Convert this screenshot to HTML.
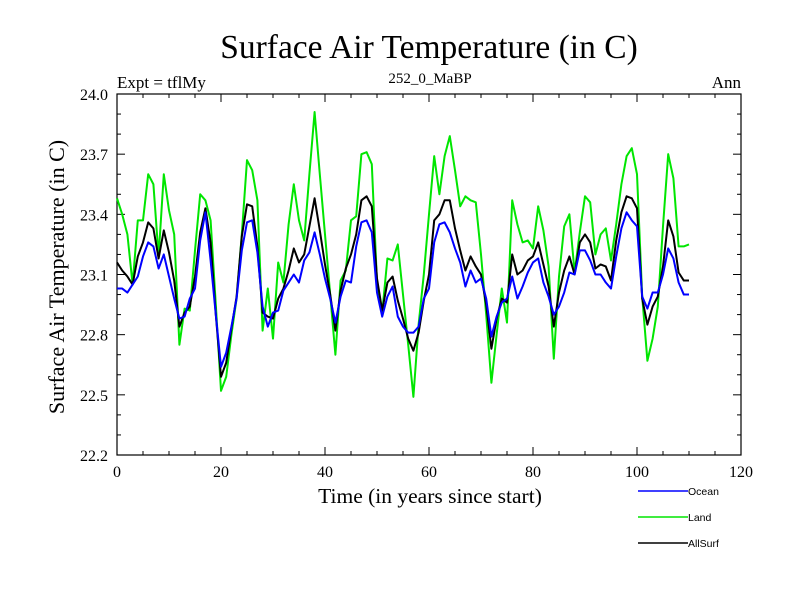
<!DOCTYPE html>
<html><head><meta charset="utf-8"><style>
html,body{margin:0;padding:0;background:#fff;}
svg{display:block;}
text{font-family:"Liberation Serif",serif;}
</style></head><body>
<svg id="chart" width="800" height="600" viewBox="0 0 800 600" xmlns="http://www.w3.org/2000/svg">
<text x="429" y="58" font-size="33.5" text-anchor="middle">Surface Air Temperature (in C)</text>
<text x="117" y="88" font-size="17">Expt = tflMy</text>
<text x="430" y="83" font-size="15" text-anchor="middle">252_0_MaBP</text>
<text x="741" y="88" font-size="17" text-anchor="end">Ann</text>
<text x="430" y="503" font-size="21.5" text-anchor="middle">Time (in years since start)</text>
<text x="0" y="0" font-size="22" text-anchor="middle" transform="translate(64,277) rotate(-90)">Surface Air Temperature (in C)</text>
<g id="axes"></g>
<g id="series"></g>
<g id="legend"></g>
</svg>
<script>
var years = [];
for (var i = 0; i <= 110; i++) years.push(i);
var land = [23.48,23.40,23.30,23.05,23.37,23.37,23.60,23.55,23.19,23.60,23.42,23.30,22.75,22.93,22.92,23.22,23.50,23.47,23.37,22.95,22.52,22.59,22.80,22.98,23.30,23.67,23.62,23.47,22.82,23.03,22.78,23.16,23.06,23.35,23.55,23.37,23.27,23.60,23.91,23.60,23.30,23.00,22.70,23.07,23.12,23.37,23.39,23.70,23.71,23.65,23.06,22.91,23.18,23.17,23.25,23.00,22.75,22.49,22.85,23.10,23.40,23.69,23.50,23.69,23.79,23.62,23.44,23.49,23.47,23.46,23.20,22.90,22.56,22.80,23.03,22.86,23.47,23.35,23.26,23.27,23.23,23.44,23.32,23.14,22.68,23.09,23.34,23.40,23.11,23.31,23.49,23.46,23.20,23.30,23.33,23.17,23.35,23.55,23.69,23.73,23.60,22.99,22.67,22.78,22.94,23.34,23.70,23.58,23.24,23.24,23.25];
var ocean = [23.03,23.03,23.01,23.05,23.09,23.19,23.26,23.24,23.13,23.20,23.09,22.98,22.88,22.89,22.98,23.03,23.27,23.41,23.17,22.90,22.64,22.71,22.84,22.98,23.22,23.36,23.37,23.21,22.94,22.84,22.91,22.92,23.02,23.06,23.10,23.06,23.17,23.21,23.31,23.20,23.08,22.98,22.86,22.99,23.07,23.06,23.24,23.36,23.37,23.31,23.01,22.89,22.99,23.04,22.89,22.84,22.81,22.81,22.84,22.98,23.03,23.26,23.35,23.36,23.31,23.23,23.16,23.04,23.12,23.06,23.08,22.98,22.79,22.89,22.96,22.98,23.09,22.98,23.04,23.11,23.16,23.18,23.06,22.99,22.90,22.94,23.01,23.11,23.10,23.22,23.22,23.17,23.10,23.10,23.06,23.03,23.19,23.33,23.41,23.37,23.34,22.99,22.93,23.01,23.01,23.10,23.23,23.18,23.06,23.00,23.00];
var allsurf = [23.16,23.12,23.09,23.05,23.19,23.26,23.36,23.33,23.18,23.32,23.21,23.07,22.84,22.91,22.94,23.09,23.31,23.43,23.26,22.90,22.59,22.66,22.83,22.99,23.29,23.45,23.44,23.24,22.91,22.89,22.88,22.98,23.03,23.12,23.23,23.16,23.20,23.34,23.48,23.32,23.15,23.00,22.82,23.02,23.13,23.20,23.30,23.47,23.49,23.44,23.08,22.92,23.06,23.09,22.97,22.88,22.78,22.72,22.81,22.97,23.10,23.37,23.40,23.47,23.47,23.33,23.22,23.12,23.19,23.14,23.10,22.95,22.73,22.88,22.98,22.96,23.20,23.10,23.12,23.17,23.19,23.26,23.15,23.04,22.84,23.01,23.12,23.19,23.10,23.26,23.30,23.26,23.13,23.15,23.14,23.07,23.27,23.41,23.49,23.48,23.43,22.98,22.85,22.94,22.99,23.14,23.37,23.29,23.11,23.07,23.07];
var xTicks = [0,20,40,60,80,100,120];
var yTicks = [22.2,22.5,22.8,23.1,23.4,23.7,24.0];
var yTickLabels = ["22.2","22.5","22.8","23.1","23.4","23.7","24.0"];

var X0=117,X1=741,Y0=455,Y1=94, XMIN=0,XMAX=120,YMIN=22.2,YMAX=24.0;
function sx(v){return X0+(v-XMIN)/(XMAX-XMIN)*(X1-X0);}
function sy(v){return Y0-(v-YMIN)/(YMAX-YMIN)*(Y0-Y1);}
var NS='http://www.w3.org/2000/svg';
function mk(tag,attrs,parent){var e=document.createElementNS(NS,tag);for(var k in attrs)e.setAttribute(k,attrs[k]);parent.appendChild(e);return e;}

var axes=document.getElementById('axes');
var frame=mk('rect',{x:X0,y:Y1,width:X1-X0,height:Y0-Y1,fill:'none',stroke:'#000','stroke-width':1.2},axes);


for (var m=XMIN;m<=XMAX;m+=5){
  var big = (m%20===0);
  var len = big?8:4;
  var t1=mk('line',{x1:sx(m),x2:sx(m),y1:Y0,y2:Y0-len,stroke:'#000','stroke-width':1},axes);
  
  
  var t2=mk('line',{x1:sx(m),x2:sx(m),y1:Y1,y2:Y1+len,stroke:'#000','stroke-width':1},axes);
  
  
}
xTicks.forEach(function(v){
  var t=mk('text',{x:sx(v),y:Y0+22,'font-size':16,'text-anchor':'middle'},axes);
  t.textContent=String(v);
  
  
});
for (var k=0;k<=18;k++){
  var v=YMIN+k*0.1;
  var big=(k%3===0);
  var len=big?8:4;
  var a=mk('line',{x1:X0,x2:X0+len,y1:sy(v),y2:sy(v),stroke:'#000','stroke-width':1},axes);
  
  
  var b=mk('line',{x1:X1,x2:X1-len,y1:sy(v),y2:sy(v),stroke:'#000','stroke-width':1},axes);
  
  
}
yTicks.forEach(function(v,i){
  var t=mk('text',{x:X0-9,y:sy(v)+6,'font-size':16,'text-anchor':'end'},axes);
  t.textContent=yTickLabels[i];
  
  
});

var series=document.getElementById('series');
function drawLine(vals,color,name){
  var pts=vals.map(function(v,i){return sx(years[i]).toFixed(2)+','+sy(v).toFixed(2);}).join(' ');
  var p=mk('polyline',{points:pts,fill:'none',stroke:color,'stroke-width':2,'stroke-linejoin':'round'},series);
  
  
}
drawLine(land,'#00e600','land-line');
drawLine(allsurf,'#000000','allsurf-line');
drawLine(ocean,'#0000ff','ocean-line');

var legend=document.getElementById('legend');
var items=[['Ocean','#0000ff',491,'legend-entry-ocean'],['Land','#00e600',517,'legend-entry-land'],['AllSurf','#000000',543,'legend-entry-allsurf']];
items.forEach(function(it){
  var g=mk('g',{},legend);
  
  
  mk('line',{x1:638,x2:688,y1:it[2],y2:it[2],stroke:it[1],'stroke-width':1.5},g);
  var t=mk('text',{x:688,y:it[2]+4,'font-size':10.5},g);
  t.style.fontFamily='"Liberation Sans",sans-serif';
  t.textContent=it[0];
});
</script>
</body></html>
